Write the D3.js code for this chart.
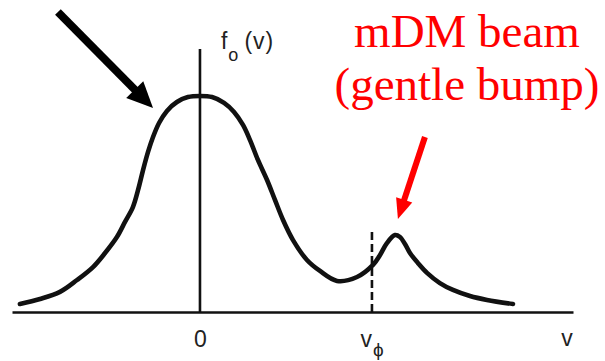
<!DOCTYPE html>
<html>
<head>
<meta charset="utf-8">
<script src="https://cdn.jsdelivr.net/npm/d3@7"></script>
<style>
  html, body { margin: 0; padding: 0; background: #fff; }
  svg { display: block; }
</style>
</head>
<body>
<svg id="chart" width="605" height="361"></svg>
<script>
// Velocity grid (units of the phase velocity v_phi) and distribution f0(v), peak normalised to 1
const velocity = [-1.047, -0.930, -0.814, -0.715, -0.622, -0.552, -0.483, -0.436, -0.390, -0.360,
  -0.331, -0.302, -0.273, -0.238, -0.192, -0.134, -0.070, 0, 0.070, 0.140,
  0.198, 0.250, 0.291, 0.337, 0.390, 0.436, 0.483, 0.541, 0.622, 0.698,
  0.797, 0.913, 1.006, 1.047, 1.087, 1.134, 1.163, 1.192, 1.221, 1.267,
  1.320, 1.395, 1.471, 1.570, 1.669, 1.820];
const density = [0.037, 0.060, 0.093, 0.148, 0.208, 0.273, 0.347, 0.417, 0.486, 0.565,
  0.657, 0.741, 0.810, 0.875, 0.931, 0.972, 0.995, 1.000, 0.995, 0.968,
  0.926, 0.866, 0.796, 0.704, 0.611, 0.519, 0.426, 0.333, 0.241, 0.190,
  0.144, 0.162, 0.218, 0.264, 0.319, 0.356, 0.347, 0.315, 0.273, 0.227,
  0.181, 0.134, 0.102, 0.074, 0.056, 0.037];

// Axis extent and tick positions
const vExtent = [-1.093, 2.169];
const fTop = 1.218;
const tickValues = [0, 1];
const tickLabels = ["0", "v"];
const tickSubs = ["", "\u03D5"];
const vPhi = 1;
const vPhiLineTop = 0.37;

// Annotation arrows in data coordinates: [start, tip]
const blackArrow = [[-0.826, 1.389], [-0.273, 0.944]];
const redArrow = [[1.308, 0.810], [1.151, 0.431]];
const beamLabel = ["mDM beam", "(gentle bump)"];

const svg = d3.select("#chart");

const x = d3.scaleLinear().domain(vExtent).range([12, 573]);
const y = d3.scaleLinear().domain([0, 1]).range([312, 96]);

const ink = "#111";
const sans = "'Liberation Sans', Arial, sans-serif";

// Horizontal axis with the two marked velocities
const xAxis = d3.axisBottom(x)
  .tickValues(tickValues)
  .tickSize(0)
  .tickSizeOuter(0)
  .tickPadding(13)
  .tickFormat((d, i) => tickLabels[i]);

const gx = svg.append("g")
  .attr("transform", `translate(0,${y(0)})`)
  .call(xAxis);
gx.select(".domain").attr("stroke", ink).attr("stroke-width", 2.6);
gx.selectAll(".tick text")
  .attr("font-family", sans)
  .attr("font-size", 23)
  .attr("fill", "#222")
  .attr("dy", "0.95em")
  .each(function (d, i) {
    if (tickSubs[i]) {
      d3.select(this).attr("text-anchor", "start").attr("dx", -12);
      d3.select(this).append("tspan")
        .attr("font-size", 19)
        .attr("dy", 9)
        .attr("dx", 1)
        .text(tickSubs[i]);
    }
  });

// Axis name at the right end
svg.append("text")
  .attr("x", x(vExtent[1]) - 6)
  .attr("y", y(0) + 34)
  .attr("text-anchor", "middle")
  .attr("font-family", sans)
  .attr("font-size", 23)
  .attr("fill", "#222")
  .text("v");

// Vertical axis at v = 0
svg.append("line")
  .attr("x1", x(0)).attr("x2", x(0))
  .attr("y1", y(0)).attr("y2", y(fTop))
  .attr("stroke", ink)
  .attr("stroke-width", 2.6);

// Vertical axis name f0(v)
const yLabel = svg.append("text")
  .attr("x", x(0) + 21)
  .attr("y", y(fTop))
  .attr("font-family", sans)
  .attr("font-size", 23)
  .attr("fill", "#222");
yLabel.append("tspan").text("f");
yLabel.append("tspan").attr("font-size", 18).attr("dy", 12).attr("dx", 1).text("o");
yLabel.append("tspan").attr("dy", -12).attr("dx", 6).attr("letter-spacing", 1).text("(v)");

// Dashed marker at the phase velocity
svg.append("line")
  .attr("x1", x(vPhi)).attr("x2", x(vPhi))
  .attr("y1", y(0)).attr("y2", y(vPhiLineTop))
  .attr("stroke", ink)
  .attr("stroke-width", 2.6)
  .attr("stroke-dasharray", "8,4");

// Distribution curve
const pts = velocity.map((v, i) => [v, density[i]]);
svg.append("path")
  .datum(pts)
  .attr("fill", "none")
  .attr("stroke", ink)
  .attr("stroke-width", 4.6)
  .attr("stroke-linecap", "round")
  .attr("d", d3.line()
    .x(d => x(d[0]))
    .y(d => y(d[1]))
    .curve(d3.curveCatmullRom.alpha(0.5)));

// Arrow drawing helper: shaft plus triangular head
function arrow(spec, color, shaft, headLen, headW) {
  const [x0, y0] = [x(spec[0][0]), y(spec[0][1])];
  const [x1, y1] = [x(spec[1][0]), y(spec[1][1])];
  const ang = Math.atan2(y1 - y0, x1 - x0);
  const bx = x1 - headLen * Math.cos(ang);
  const by = y1 - headLen * Math.sin(ang);
  const nx = -Math.sin(ang), ny = Math.cos(ang);
  svg.append("line")
    .attr("x1", x0).attr("y1", y0)
    .attr("x2", bx + 2 * Math.cos(ang)).attr("y2", by + 2 * Math.sin(ang))
    .attr("stroke", color)
    .attr("stroke-width", shaft);
  svg.append("path")
    .attr("fill", color)
    .attr("d", `M${x1},${y1}L${bx + nx * headW / 2},${by + ny * headW / 2}L${bx - nx * headW / 2},${by - ny * headW / 2}Z`);
}
arrow(blackArrow, "#000", 8, 26, 24);
arrow(redArrow, "#ff0000", 6, 20, 17);

// Red annotation text
const serif = "'Liberation Serif', 'Times New Roman', serif";
svg.append("g")
  .selectAll("text")
  .data(beamLabel)
  .join("text")
  .attr("x", 467)
  .attr("y", (d, i) => 47 + i * 53)
  .attr("text-anchor", "middle")
  .attr("font-family", serif)
  .attr("font-size", 47)
  .attr("fill", "#ff0000")
  .text(d => d);
</script>
</body>
</html>
